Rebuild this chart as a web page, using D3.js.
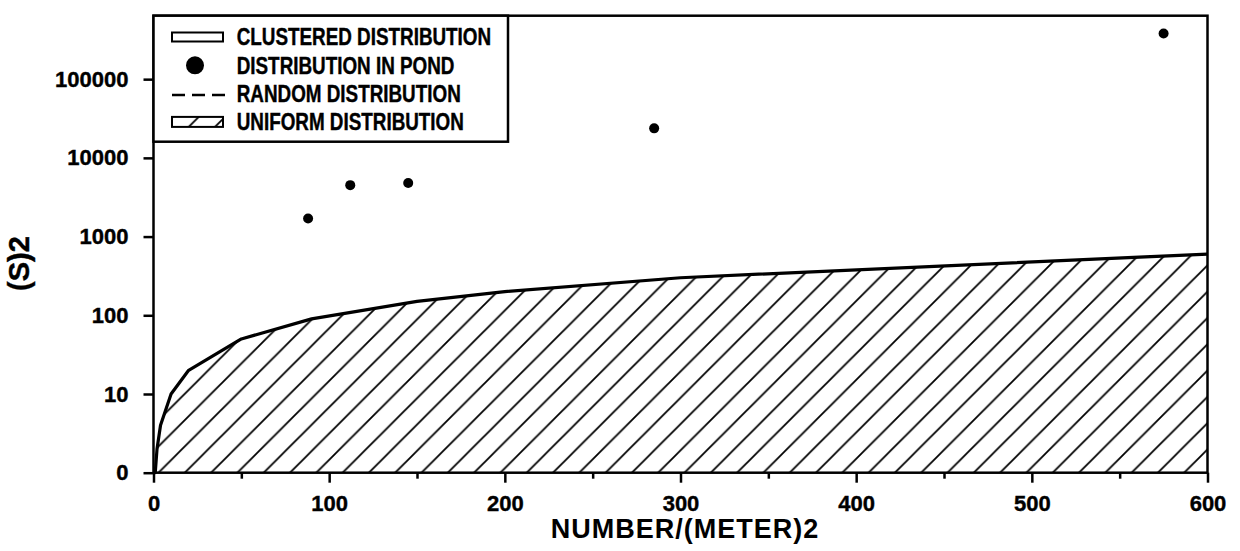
<!DOCTYPE html>
<html lang="en">
<head>
<meta charset="utf-8">
<title>Variance vs density</title>
<style>
  body { margin: 0; background: #fff; }
  svg text { font-family: "Liberation Sans", Arial, sans-serif; font-weight: bold; fill: #000; stroke: #000; stroke-width: 0.4px; }
  .frame { fill: none; stroke: #000; stroke-width: 2.5px; }
  .axis path.domain { display: none; }
  .axis line { stroke: #000; stroke-width: 2.5px; }
  .axis text { font-size: 22px; }
  .curve { fill: none; stroke: #000; stroke-width: 3.2px; stroke-linejoin: round; }
  .hatch-line { stroke: #000; stroke-width: 1.8px; }
</style>
</head>
<body>
<script src="https://d3js.org/d3.v7.min.js"></script>
<script>

// observed in the pond: density (number / m2) and variance
const pondX = [88, 112, 145, 285, 575];
const pondY = [1700, 4500, 4800, 23700, 380000];

// random distribution, variance equal to mean
const randomX = [0, 1, 2, 4, 10, 20, 50, 90, 150, 200, 300, 600];
const randomY = [0, 1, 2, 4, 10, 20, 50, 90, 150, 200, 300, 600];

const xTicks = [0, 100, 200, 300, 400, 500, 600];
const xMinorTicks = [50, 150, 250, 350, 450, 550];
const yTicks = [1, 10, 100, 1000, 10000, 100000];
const yTickLabels = ["0", "10", "100", "1000", "10000", "100000"];

const legendLabels = ["CLUSTERED DISTRIBUTION", "DISTRIBUTION IN POND", "RANDOM DISTRIBUTION", "UNIFORM DISTRIBUTION"];

// ---------- layout ----------
var margin = {top: 15.7, left: 153.5},
    width = 1054,
    height = 457;

var svg = d3.select("body").append("svg")
    .attr("width", 1240)
    .attr("height", 551);

var x = d3.scaleLinear().domain([0, 600]).range([0, width]);
var y = d3.scaleLog().domain([1, 640000]).range([height, 0]);
// zero is drawn on the baseline (the "0" tick sits where 1 would be)
var yv = function(v) { return y(Math.max(v, 1)); };

// hatch pattern, lines rising to the right at 45 degrees
var step = 26.3;
var defs = svg.append("defs");
var pat = defs.append("pattern")
    .attr("id", "hatch")
    .attr("patternUnits", "userSpaceOnUse")
    .attr("x", -((margin.left + margin.top) % step))
    .attr("width", step)
    .attr("height", step);
pat.append("path")
    .attr("class", "hatch-line")
    .attr("d", "M-2,2 L2,-2 M0," + step + " L" + step + ",0 M" + (step - 2) + "," + (step + 2) + " L" + (step + 2) + "," + (step - 2));

var g = svg.append("g")
    .attr("transform", "translate(" + margin.left + "," + margin.top + ")");

// uniform region below the random line
var idx = d3.range(randomX.length);
g.append("path")
    .attr("fill", "url(#hatch)")
    .attr("d", d3.area()
        .x(function(i) { return x(randomX[i]); })
        .y0(height)
        .y1(function(i) { return yv(randomY[i]); })(idx));

g.append("path")
    .attr("class", "curve")
    .attr("d", d3.line()
        .x(function(i) { return x(randomX[i]); })
        .y(function(i) { return yv(randomY[i]); })(idx));

// pond points
g.selectAll("circle.pond")
    .data(d3.range(pondX.length))
  .enter().append("circle")
    .attr("class", "pond")
    .attr("cx", function(i) { return x(pondX[i]); })
    .attr("cy", function(i) { return y(pondY[i]); })
    .attr("r", 5)
    .attr("fill", "#000");

// axes
g.append("g")
    .attr("class", "axis")
    .attr("transform", "translate(0," + height + ")")
    .call(d3.axisBottom(x).tickValues(xTicks).tickSize(10).tickPadding(13));

g.append("g")
    .attr("class", "axis")
    .attr("transform", "translate(0," + height + ")")
    .call(d3.axisBottom(x).tickValues(xMinorTicks).tickSize(6).tickFormat(""));

g.append("g")
    .attr("class", "axis")
    .call(d3.axisLeft(y).tickValues(yTicks).tickSize(10).tickPadding(15)
        .tickFormat(function(d, i) { return yTickLabels[i]; }));

g.append("rect")
    .attr("class", "frame")
    .attr("width", width)
    .attr("height", height);

// legend
var rowY = function(i) { return 21.3 + i * 28.3; };
var lg = g.append("g");
lg.append("rect")
    .attr("width", 354.5)
    .attr("height", 126)
    .attr("fill", "#fff")
    .attr("stroke", "#000")
    .attr("stroke-width", 2.5);

lg.append("rect")
    .attr("x", 18.5).attr("y", rowY(0) - 4.5)
    .attr("width", 51).attr("height", 9)
    .attr("fill", "#fff").attr("stroke", "#000").attr("stroke-width", 2);

lg.append("circle")
    .attr("cx", 41.5).attr("cy", rowY(1))
    .attr("r", 9).attr("fill", "#000");

lg.append("line")
    .attr("x1", 18.5).attr("x2", 73.5)
    .attr("y1", rowY(2) + 1.5).attr("y2", rowY(2) + 1.5)
    .attr("stroke", "#000").attr("stroke-width", 2.5)
    .attr("stroke-dasharray", "13,7");

lg.append("rect")
    .attr("x", 18.5).attr("y", rowY(3) - 5)
    .attr("width", 51).attr("height", 10)
    .attr("fill", "url(#hatch)").attr("stroke", "#000").attr("stroke-width", 2);

lg.selectAll("text")
    .data(legendLabels)
  .enter().append("text")
    .attr("transform", function(d, i) { return "translate(83.2," + (rowY(i) + 8.3) + ") scale(0.82,1)"; })
    .style("font-size", "23px")
    .text(function(d) { return d; });

// axis titles
svg.append("text")
    .attr("x", 685).attr("y", 538)
    .attr("text-anchor", "middle")
    .style("font-size", "27px")
    .style("letter-spacing", "1px")
    .style("stroke-width", "0px")
    .text("NUMBER/(METER)2");

svg.append("text")
    .attr("transform", "translate(29,263.5) rotate(-90)")
    .attr("text-anchor", "middle")
    .style("font-size", "29px")
    .text("(S)2");

</script>
</body>
</html>
